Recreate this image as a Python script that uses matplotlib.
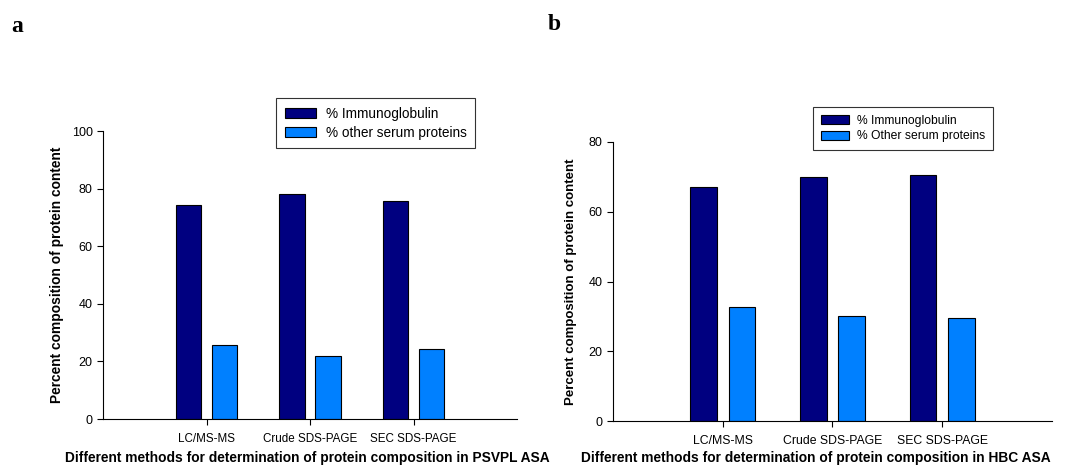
import numpy as np
import matplotlib
matplotlib.use("Agg")
import matplotlib.pyplot as plt

plt.rcParams['font.family'] = ['Liberation Sans', 'DejaVu Sans']

methods = ["LC/MS-MS", "Crude SDS-PAGE", "SEC SDS-PAGE"]

# panel a (PSVPL ASA)
ig_a = [74.3, 78.0, 75.8]
other_a = [25.7, 22.0, 24.2]

# panel b (HBC ASA)
ig_b = [67.2, 70.0, 70.5]
other_b = [32.8, 30.0, 29.5]

dark = "#000080"
light = "#0080ff"

fig = plt.figure(figsize=(10.8, 4.68), dpi=100)

def panel(rect, ig, other, ymax, yticks, legend_labels, legend_box, legend_fs,
          tick_fs, ylab_fs, hl, lspace):
    ax = fig.add_axes(rect)
    x = np.arange(len(methods))
    b1 = ax.bar(x - 0.175, ig, width=0.245, color=dark, edgecolor="black", linewidth=0.8)
    b2 = ax.bar(x + 0.175, other, width=0.245, color=light, edgecolor="black", linewidth=0.8)
    ax.set_xlim(-1, 3)
    ax.set_ylim(0, ymax)
    ax.set_yticks(yticks)
    ax.set_xticks(x)
    ax.set_xticklabels(methods, fontsize=tick_fs)
    ax.tick_params(axis='y', labelsize=9, length=4, width=0.8)
    ax.tick_params(axis='x', length=4, width=0.8, pad=6)
    ax.spines['top'].set_visible(False)
    ax.spines['right'].set_visible(False)
    ax.set_ylabel("Percent composition of protein content", fontsize=ylab_fs, fontweight="bold")
    leg = ax.legend([b1, b2], legend_labels, loc="upper left", bbox_to_anchor=legend_box,
                    bbox_transform=fig.transFigure, fontsize=legend_fs, frameon=True,
                    fancybox=False, edgecolor="black", handlelength=hl, handleheight=0.8,
                    handletextpad=0.7, borderaxespad=0, labelspacing=lspace, borderpad=0.65)
    leg.get_frame().set_linewidth(0.8)
    return ax

ax_a = panel([103/1080, 1 - 419/468, (517-103)/1080, (419-131)/468], ig_a, other_a, 100,
             [0, 20, 40, 60, 80, 100], ["% Immunoglobulin", "% other serum proteins"],
             (276/1080, 1 - 98/468), 9.8, 8.4, 9.9, 2.3, 0.35)
ax_b = panel([613/1080, 1 - 421/468, (1052-613)/1080, (421-142)/468], ig_b, other_b, 80,
             [0, 20, 40, 60, 80], ["% Immunoglobulin", "% Other serum proteins"],
             (813/1080, 1 - 107/468), 8.7, 8.8, 9.5, 2.3, 0.3)
ax_a.yaxis.set_label_coords(-0.095, 0.5)
ax_b.yaxis.set_label_coords(-0.082, 0.5)

fig.text(307/1080, 1 - 458/468, "Different methods for determination of protein composition in PSVPL ASA",
         ha="center", va="center", fontsize=9.9, fontweight="bold")
fig.text(816/1080, 1 - 458/468, "Different methods for determination of protein composition in HBC ASA",
         ha="center", va="center", fontsize=9.9, fontweight="bold")

fig.text(11/1080, 1 - 27/468, "a", fontsize=17, fontweight="bold", family="Liberation Serif", va="center")
fig.text(548/1080, 1 - 25/468, "b", fontsize=17, fontweight="bold", family="Liberation Serif", va="center")

fig.savefig("out.png", dpi=100)
